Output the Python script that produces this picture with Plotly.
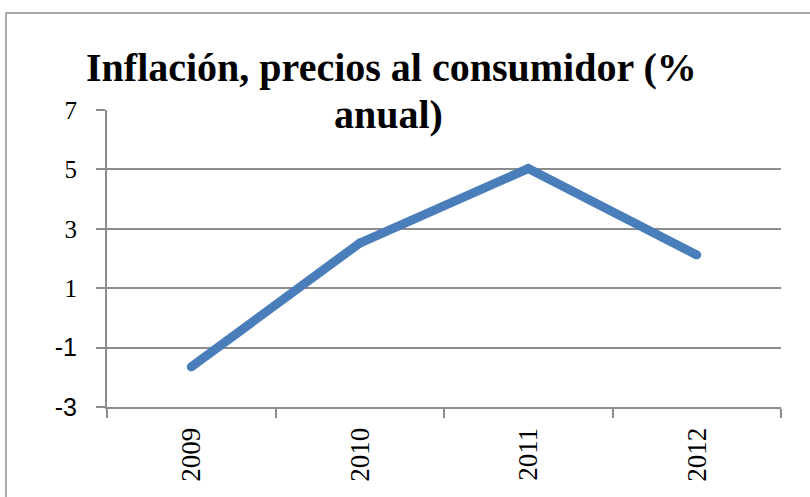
import plotly.graph_objects as go

years = ["2009", "2010", "2011", "2012"]
inflation = [-1.65, 2.52, 5.03, 2.12]
y_ticks = [-3, -1, 1, 3, 5, 7]
y_tick_labels = ["-3", "-1", "1", "3", "5", "7"]
title_lines = ["Inflación, precios al consumidor (%", "anual)"]

def fmt(lbl):
    if lbl.startswith("-"):
        return '<span style="font-family:Liberation Sans">' + lbl + "</span>"
    return lbl

GRID = "#8c8c8c"
BLUE = "#4a7ebb"

fig = go.Figure()
fig.add_trace(go.Scatter(
    x=years, y=inflation, mode="lines+markers",
    line=dict(color=BLUE, width=9),
    marker=dict(color=BLUE, size=9, line=dict(width=0)),
    hoverinfo="skip", showlegend=False,
))

L, R, T, B = 107, 781, 110, 407
W, H = 810, 497
pw, ph = R - L, B - T

def px(x):
    return (x - L) / pw

def py(y):
    return (B - y) / ph

fig.update_layout(
    width=W, height=H,
    margin=dict(l=L, r=W - R, t=T, b=H - B, pad=0),
    paper_bgcolor="white", plot_bgcolor="white",
    font=dict(family="Liberation Serif", color="black"),
    xaxis=dict(
        type="category", range=[-0.5, 3.5], showgrid=False,
        showline=True, linecolor=GRID, linewidth=2,
        ticks="outside", ticklen=9, tickcolor=GRID, tickwidth=2,
        tickson="boundaries", tickangle=-90,
        tickfont=dict(family="Liberation Serif", size=27),
        ticklabelstandoff=8, zeroline=False,
    ),
    yaxis=dict(
        range=[-3, 7], tickvals=y_ticks, ticktext=[fmt(t) for t in y_tick_labels],
        showgrid=True, gridcolor=GRID, gridwidth=2,
        showline=True, linecolor=GRID, linewidth=2,
        ticks="outside", ticklen=9, tickcolor=GRID, tickwidth=2,
        tickfont=dict(family="Liberation Serif", size=25),
        ticklabelstandoff=14, zeroline=False,
    ),
    shapes=[dict(
        type="rect", xref="paper", yref="paper",
        x0=px(6), x1=px(830), y0=py(520), y1=py(13),
        line=dict(color=GRID, width=1.5), fillcolor="rgba(0,0,0,0)", layer="below",
    )],
    annotations=[
        dict(text="<b>" + title_lines[0] + "</b>", xref="paper", yref="paper",
             x=px(391), y=py(67), xanchor="center", yanchor="middle", showarrow=False,
             font=dict(family="Liberation Serif", size=40, color="black")),
        dict(text="<b>" + title_lines[1] + "</b>", xref="paper", yref="paper",
             x=px(388), y=py(114), xanchor="center", yanchor="middle", showarrow=False,
             font=dict(family="Liberation Serif", size=40, color="black")),
    ],
)

fig.write_html("out.html", config={"displayModeBar": False},
               post_script="document.body.style.margin='0';document.body.style.overflow='hidden';")
